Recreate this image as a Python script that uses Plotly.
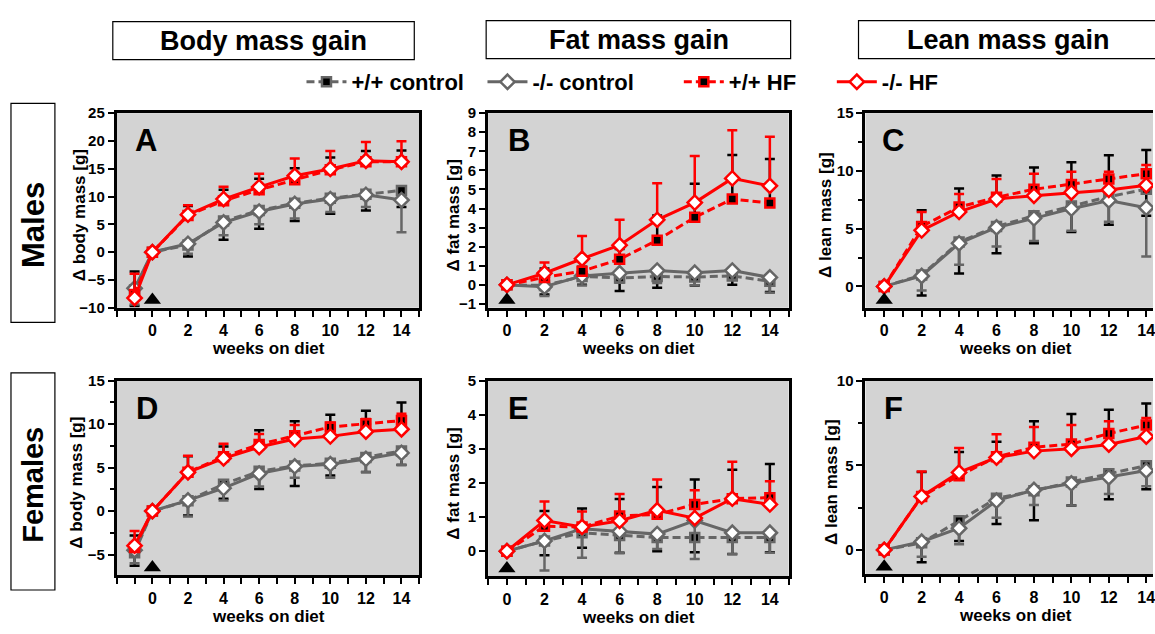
import plotly.graph_objects as go

W, H = 1155, 634
FONT = "Liberation Sans, Arial, sans-serif"
GRAY = "#666666"
RED = "#FF0000"
BG = "#D3D3D3"

# ---------------- data ----------------
weeks_pre = [-1, 0, 2, 4, 6, 8, 10, 12, 14]
weeks = [0, 2, 4, 6, 8, 10, 12, 14]
x_tick_vals = [0, 2, 4, 6, 8, 10, 12, 14]
series_names = ["+/+ control", "-/- control", "+/+ HF", "-/- HF"]

# Panel A: males, body mass gain
A_wt_ctrl = [-6.8, 0, 1.3, 5.6, 7.5, 8.8, 9.7, 10.4, 11.1]
A_wt_ctrl_sem = [2.9, 0, 2.1, 3.35, 3.3, 3.2, 2.8, 2.9, 3.0]
A_ko_ctrl = [-6.5, 0, 1.5, 5.34, 7.3, 8.67, 9.54, 10.3, 9.37]
A_ko_ctrl_sem = [2.9, 0, 1.8, 2.3, 2.3, 2.6, 2.3, 2.2, 5.8]
A_wt_hf = [-7.6, 0, 6.6, 9.25, 11.2, 13.0, 14.8, 16.25, 16.25]
A_wt_hf_sem = [4.1, 0, 1.7, 1.95, 2.0, 2.1, 2.2, 1.95, 2.05]
A_ko_hf = [-8.25, 0, 6.74, 9.54, 11.7, 13.74, 14.97, 16.43, 16.25]
A_ko_hf_sem = [4.35, 0, 1.7, 2.2, 2.4, 3.1, 3.2, 3.4, 3.7]

# Panel B: males, fat mass gain
B_wt_ctrl = [0, -0.03, 0.44, 0.36, 0.44, 0.41, 0.47, 0.19]
B_wt_ctrl_sem = [0, 0.47, 0.44, 0.68, 0.59, 0.44, 0.47, 0.56]
B_ko_ctrl = [0, -0.1, 0.47, 0.61, 0.75, 0.64, 0.75, 0.39]
B_ko_ctrl_sem = [0, 0.48, 0.5, 0.5, 0.65, 0.66, 0.48, 0.8]
B_wt_hf = [0, 0.39, 0.72, 1.34, 2.34, 3.54, 4.5, 4.29]
B_wt_hf_sem = [0, 0.47, 0.23, 0.54, 1.29, 1.76, 2.3, 2.31]
B_ko_hf = [0, 0.61, 1.37, 2.08, 3.41, 4.31, 5.58, 5.19]
B_ko_hf_sem = [0, 0.56, 1.19, 1.33, 1.91, 2.44, 2.52, 2.57]

# Panel C: males, lean mass gain
C_wt_ctrl = [0, 0.98, 3.84, 5.19, 6.11, 6.95, 7.77, 8.41]
C_wt_ctrl_sem = [0, 1.76, 2.72, 2.33, 2.38, 2.24, 2.44, 2.3]
C_ko_ctrl = [0, 0.9, 3.73, 5.1, 5.89, 6.73, 7.43, 6.81]
C_ko_ctrl_sem = [0, 1.26, 1.85, 1.65, 1.97, 1.91, 1.83, 4.23]
C_wt_hf = [0, 5.19, 6.87, 7.71, 8.41, 8.83, 9.3, 9.76]
C_wt_hf_sem = [0, 1.4, 1.6, 1.89, 1.89, 1.91, 2.05, 2.04]
C_ko_hf = [0, 4.85, 6.45, 7.57, 7.85, 8.13, 8.35, 8.75]
C_ko_hf_sem = [0, 1.6, 1.55, 1.73, 1.91, 1.79, 1.57, 1.75]

# Panel D: females, body mass gain
D_wt_ctrl = [-4.8, 0, 1.2, 3.09, 4.58, 5.2, 5.5, 6.18, 6.92]
D_wt_ctrl_sem = [1.5, 0, 1.7, 1.68, 2.05, 2.3, 1.41, 1.68, 1.62]
D_ko_ctrl = [-4.5, 0, 1.23, 2.64, 4.32, 5.14, 5.4, 6.0, 6.7]
D_ko_ctrl_sem = [1.5, 0, 1.86, 1.41, 1.49, 1.31, 1.57, 1.53, 1.38]
D_wt_hf = [-4.2, 0, 4.47, 6.25, 7.67, 8.67, 9.68, 10.05, 10.42]
D_wt_hf_sem = [1.4, 0, 1.85, 1.19, 1.63, 1.68, 1.42, 1.49, 2.08]
D_ko_hf = [-3.98, 0, 4.47, 6.07, 7.37, 8.3, 8.6, 9.15, 9.42]
D_ko_hf_sem = [1.68, 0, 1.89, 1.67, 1.49, 1.6, 1.56, 1.45, 1.78]

# Panel E: females, fat mass gain
E_wt_ctrl = [0, 0.3, 0.54, 0.46, 0.4, 0.4, 0.4, 0.4]
E_wt_ctrl_sem = [0, 0.42, 0.44, 0.51, 0.4, 0.43, 0.48, 0.43]
E_ko_ctrl = [0, 0.3, 0.66, 0.58, 0.5, 0.9, 0.54, 0.54]
E_ko_ctrl_sem = [0, 0.87, 0.85, 0.64, 0.44, 1.13, 0.63, 0.59]
E_wt_hf = [0, 0.73, 0.71, 1.03, 1.08, 1.37, 1.54, 1.57]
E_wt_hf_sem = [0, 0.45, 0.54, 0.5, 0.8, 0.73, 0.85, 0.99]
E_ko_hf = [0, 0.9, 0.71, 0.89, 1.2, 0.97, 1.54, 1.37]
E_ko_hf_sem = [0, 0.56, 0.45, 0.79, 0.9, 0.82, 1.08, 0.68]

# Panel F: females, lean mass gain
F_wt_ctrl = [0, 0.42, 1.72, 3.05, 3.49, 4.02, 4.5, 4.98]
F_wt_ctrl_sem = [0, 1.15, 1.2, 1.52, 1.73, 1.4, 1.5, 1.4]
F_ko_ctrl = [0, 0.48, 1.28, 2.91, 3.54, 3.93, 4.29, 4.69]
F_ko_ctrl_sem = [0, 0.88, 0.95, 1.01, 0.88, 1.31, 0.99, 0.92]
F_wt_hf = [0, 3.16, 4.39, 5.5, 6.07, 6.26, 6.88, 7.38]
F_wt_hf_sem = [0, 1.44, 1.4, 0.9, 1.53, 1.77, 1.4, 1.28]
F_ko_hf = [0, 3.16, 4.58, 5.46, 5.84, 5.98, 6.23, 6.7]
F_ko_hf_sem = [0, 1.48, 1.44, 1.38, 1.42, 1.4, 1.37, 1.1]

column_titles = ["Body mass gain", "Fat mass gain", "Lean mass gain"]
row_titles = ["Males", "Females"]
y_titles = ["Δ body mass [g]", "Δ fat mass [g]", "Δ lean mass [g]"]
x_title = "weeks on diet"

# ---------------- styles ----------------
# (line colour, dash, marker symbol, marker fill, error-bar colour, error direction)
STYLES = [
    (GRAY, "8px,4px", "square", "black", "black", "down"),
    (GRAY, "solid", "diamond", "white", GRAY, "down"),
    (RED, "8px,4px", "square", "black", "black", "up"),
    (RED, "solid", "diamond", "white", RED, "up"),
]

panels = [
    dict(letter="A", x=weeks_pre, data=[A_wt_ctrl, A_ko_ctrl, A_wt_hf, A_ko_hf],
         sem=[A_wt_ctrl_sem, A_ko_ctrl_sem, A_wt_hf_sem, A_ko_hf_sem],
         px=(117, 420, 107, 307), xr=(-2, 15), yr=(-10, 25), dt=5, minor=None,
         yt=y_titles[0], ytx=79, lx=133),
    dict(letter="B", x=weeks, data=[B_wt_ctrl, B_ko_ctrl, B_wt_hf, B_ko_hf],
         sem=[B_wt_ctrl_sem, B_ko_ctrl_sem, B_wt_hf_sem, B_ko_hf_sem],
         px=(489, 790, 107, 307), xr=(-1, 15), yr=(-1.2, 9), dt=1, minor=None,
         yt=y_titles[1], ytx=454, lx=507),
    dict(letter="C", x=weeks, data=[C_wt_ctrl, C_ko_ctrl, C_wt_hf, C_ko_hf],
         sem=[C_wt_ctrl_sem, C_ko_ctrl_sem, C_wt_hf_sem, C_ko_hf_sem],
         px=(867, 1167, 107, 307), xr=(-1, 15), yr=(-1.85, 15), dt=5, minor=2.5,
         yt=y_titles[2], ytx=827, lx=882),
    dict(letter="D", x=weeks_pre, data=[D_wt_ctrl, D_ko_ctrl, D_wt_hf, D_ko_hf],
         sem=[D_wt_ctrl_sem, D_ko_ctrl_sem, D_wt_hf_sem, D_ko_hf_sem],
         px=(117, 420, 382, 582), xr=(-2, 15), yr=(-7.4, 15), dt=5, minor=2.5,
         yt=y_titles[0], ytx=77, lx=134),
    dict(letter="E", x=weeks, data=[E_wt_ctrl, E_ko_ctrl, E_wt_hf, E_ko_hf],
         sem=[E_wt_ctrl_sem, E_ko_ctrl_sem, E_wt_hf_sem, E_ko_hf_sem],
         px=(489, 790, 382, 583), xr=(-1, 15), yr=(-0.74, 5), dt=1, minor=None,
         yt=y_titles[1], ytx=454, lx=507),
    dict(letter="F", x=weeks, data=[F_wt_ctrl, F_ko_ctrl, F_wt_hf, F_ko_hf],
         sem=[F_wt_ctrl_sem, F_ko_ctrl_sem, F_wt_hf_sem, F_ko_hf_sem],
         px=(867, 1167, 382, 581), xr=(-1, 15), yr=(-1.45, 10), dt=5, minor=2.5,
         yt=y_titles[2], ytx=833, lx=884),
]


def fx(p):
    return p / W


def fy(p):
    return 1 - p / H


fig = go.Figure()
layout = dict(
    width=W, height=H, margin=dict(l=0, r=0, t=0, b=0),
    paper_bgcolor="white", plot_bgcolor=BG,
    font=dict(family=FONT, color="black"),
    annotations=[], shapes=[],
)
bold = lambda s: dict(family=FONT, size=s, color="black", weight="bold")

for i, p in enumerate(panels):
    n = i + 1
    xa, ya = ("x" if n == 1 else f"x{n}"), ("y" if n == 1 else f"y{n}")
    x0, x1, y0, y1 = p["px"]
    xmin, xmax = p["xr"]
    clipped = x1 > W
    if clipped:  # panel runs past the right edge of the picture
        xmax_vis = xmin + (W - x0) / (x1 - x0) * (xmax - xmin)
        x1v = W
    else:
        xmax_vis, x1v = xmax, x1
    ymin, ymax = p["yr"]

    for k, (vals, sem) in enumerate(zip(p["data"], p["sem"])):
        col, dash, sym, fill, ecol, direction = STYLES[k]
        zeros = [0] * len(sem)
        err = dict(type="data", symmetric=False, color=ecol, thickness=2.5, width=5,
                   array=sem if direction == "up" else zeros,
                   arrayminus=sem if direction == "down" else zeros)
        fig.add_trace(go.Scatter(
            x=p["x"], y=vals, mode="lines+markers", name=series_names[k],
            line=dict(color=col, width=3, dash=dash),
            marker=dict(symbol=sym, size=11 if sym == "diamond" else 9, color=fill,
                        line=dict(color=col, width=2.5)),
            error_y=err, xaxis=xa, yaxis=ya,
            showlegend=(n == 1), legend=("legend" if k < 2 else "legend2"),
            hoverinfo="skip",
        ))
    # start-of-diet arrowhead at week 0 on the x axis
    per_px = (y1 - y0) / (ymax - ymin)
    fig.add_trace(go.Scatter(
        x=[0], y=[ymin + 8 / per_px], mode="markers", showlegend=False,
        marker=dict(symbol="triangle-up", size=15, color="black"),
        xaxis=xa, yaxis=ya, cliponaxis=False, hoverinfo="skip"))

    xkey = "xaxis" if n == 1 else f"xaxis{n}"
    ykey = "yaxis" if n == 1 else f"yaxis{n}"
    layout[xkey] = dict(
        domain=[fx(x0), fx(x1v)], anchor=ya, range=[xmin, xmax_vis],
        showline=True, linecolor="black", linewidth=3, mirror=True,
        ticks="outside", ticklen=6, tickwidth=2, tickcolor="black",
        tickvals=x_tick_vals, tickfont=bold(16), showgrid=False, zeroline=False,
        ticklabeloverflow="allow",
        minor=dict(dtick=1, tick0=0, ticks="outside", ticklen=6, tickwidth=2,
                   tickcolor="black", showgrid=False),
    )
    yax = dict(
        domain=[fy(y1), fy(y0)], anchor=xa, range=[ymin, ymax],
        showline=True, linecolor="black", linewidth=3, mirror=not clipped,
        ticks="outside", ticklen=6, tickwidth=2, tickcolor="black",
        tick0=0, dtick=p["dt"], tickfont=bold(15), showgrid=False, zeroline=False,
    )
    if p["minor"]:
        yax["minor"] = dict(dtick=p["minor"], tick0=0, ticks="outside", ticklen=4,
                            tickwidth=2, tickcolor="black", showgrid=False)
    layout[ykey] = yax

    # y title
    layout["annotations"].append(dict(
        text=p["yt"], xref="paper", yref="paper", x=fx(p["ytx"]),
        y=fy((y0 + y1) / 2 + 5), textangle=-90, showarrow=False,
        font=bold(17), xanchor="center", yanchor="middle"))
    # x title, centred on the full week range
    layout["annotations"].append(dict(
        text=x_title, xref=xa, yref="paper", x=(xmin + xmax) / 2,
        y=fy(y1 + 42), showarrow=False, font=bold(17),
        xanchor="center", yanchor="middle"))
    # panel letter
    layout["annotations"].append(dict(
        text=p["letter"], xref="paper", yref="paper", x=fx(p["lx"]),
        y=fy(y0 + 28), showarrow=False, font=bold(31),
        xanchor="left", yanchor="middle"))

# column headers in boxes
header_boxes = [(113, 415, 13, 52), (487, 792, 12, 51), (860, 1170, 12, 51)]
header_centres = [264, 640, 1010]
for title, (bx0, bx1, by0, by1), cx in zip(column_titles, header_boxes, header_centres):
    layout["shapes"].append(dict(type="rect", xref="paper", yref="paper",
                                 x0=fx(bx0), x1=fx(bx1), y0=fy(by1), y1=fy(by0),
                                 line=dict(color="black", width=1.2)))
    layout["annotations"].append(dict(
        text=title, xref="paper", yref="paper", x=fx(cx), y=fy((by0 + by1) / 2),
        showarrow=False, font=bold(27), xanchor="center", yanchor="middle"))

# row labels in boxes
row_boxes = [(11, 55, 97, 322), (11, 55, 374, 597)]
row_centres = [222, 489]
row_sizes = [31, 29]
for title, (bx0, bx1, by0, by1), cy, fs in zip(row_titles, row_boxes, row_centres, row_sizes):
    layout["shapes"].append(dict(type="rect", xref="paper", yref="paper",
                                 x0=fx(bx0), x1=fx(bx1), y0=fy(by1), y1=fy(by0),
                                 line=dict(color="black", width=1.2)))
    layout["annotations"].append(dict(
        text=title, xref="paper", yref="paper", x=fx((bx0 + bx1) / 2), y=fy(cy),
        textangle=-90, showarrow=False, font=bold(fs),
        xanchor="center", yanchor="middle"))

leg_common = dict(orientation="h", yanchor="middle", xanchor="left",
                  font=bold(22), bgcolor="rgba(0,0,0,0)", traceorder="normal",
                  itemwidth=40, y=fy(75))
layout["legend"] = dict(leg_common, x=fx(302), entrywidth=126)
layout["legend2"] = dict(leg_common, x=fx(680), entrywidth=98)

fig.update_layout(**layout)
fig.write_html("out.html")
